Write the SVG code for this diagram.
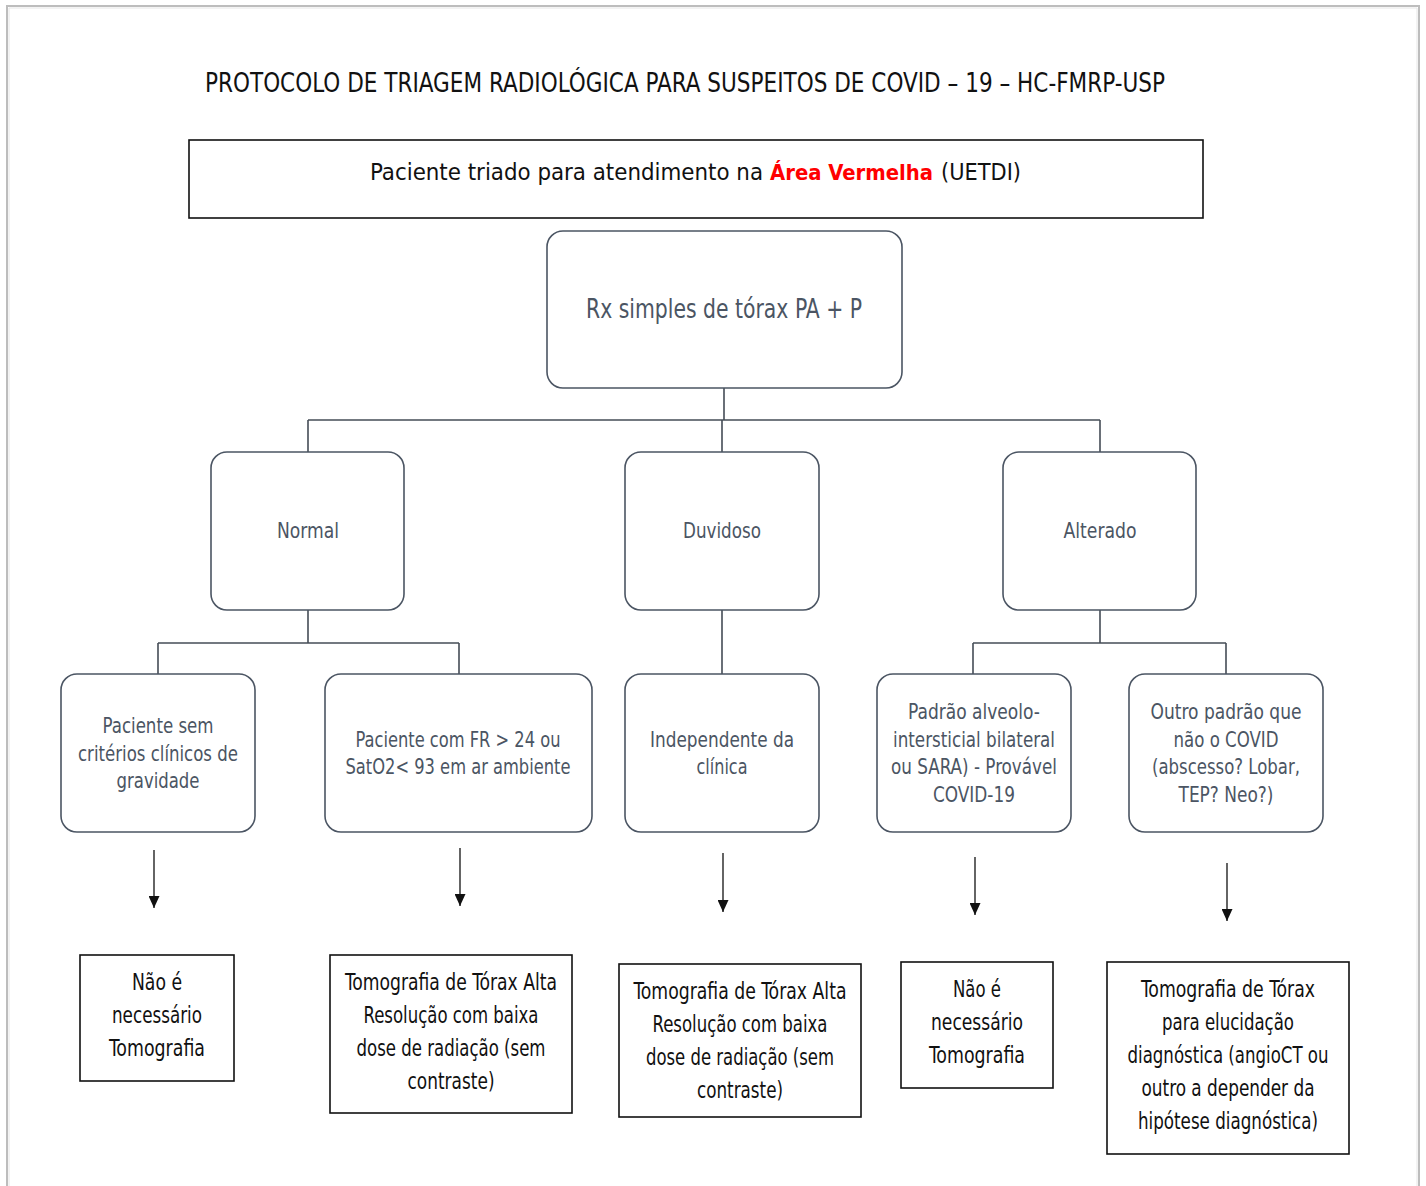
<svg xmlns="http://www.w3.org/2000/svg" width="1426" height="1186" viewBox="0 0 1426 1186">
<style>
text{font-family:"Liberation Sans Narrow","DejaVu Sans Condensed","Liberation Sans",sans-serif;text-anchor:middle}
.t{font-size:26px;fill:#111}
.node rect.r{fill:#fff;stroke:#4b5563;stroke-width:1.6}
.node text{font-size:22px;fill:#4b5563}
.res rect{fill:#fff;stroke:#111;stroke-width:1.6}
.res text{font-size:23px;fill:#111}
.res text.s{text-anchor:start;font-size:23px}
.res text.red{fill:#ff0000;font-weight:bold;font-size:22px}
.c line{stroke:#444c56;stroke-width:1.6}
.a line{stroke:#111;stroke-width:1.3}
</style>
<defs>
<marker id="ah" markerWidth="12" markerHeight="11" refX="12" refY="5.5" orient="auto" markerUnits="userSpaceOnUse" viewBox="0 0 12 11"><path d="M0,0 L12,5.5 L0,11 Z" fill="#111"/></marker>
</defs>
<rect x="0" y="0" width="1426" height="1186" fill="#fff"/>
<path d="M7,1186 V6 H1419 V1186" fill="none" stroke="#bdbdbd" stroke-width="2"/>
<path d="M9,1186 V8 H1417 V1186" fill="none" stroke="#e6e6e6" stroke-width="1"/>
<text class="t" x="685" y="92" textLength="960" lengthAdjust="spacingAndGlyphs">PROTOCOLO DE TRIAGEM RADIOLÓGICA PARA SUSPEITOS DE COVID – 19 – HC-FMRP-USP</text>
<g id="top" class="res">
<rect x="189" y="140" width="1014" height="78"/>
<text class="s" x="370" y="180" textLength="393" lengthAdjust="spacingAndGlyphs" transform="translate(0,0)">Paciente triado para atendimento na</text>
<text class="s red" x="770" y="180" textLength="163" lengthAdjust="spacingAndGlyphs">Área Vermelha</text>
<text class="s" x="941" y="180" textLength="80" lengthAdjust="spacingAndGlyphs">(UETDI)</text>
</g>
<g class="c" id="connectors">
<line x1="724" y1="388" x2="724" y2="420"/>
<line x1="308" y1="420" x2="1100" y2="420"/>
<line x1="308" y1="420" x2="308" y2="452"/>
<line x1="722" y1="420" x2="722" y2="452"/>
<line x1="1100" y1="420" x2="1100" y2="452"/>
<line x1="308" y1="610" x2="308" y2="643"/>
<line x1="158" y1="643" x2="459" y2="643"/>
<line x1="158" y1="643" x2="158" y2="674"/>
<line x1="459" y1="643" x2="459" y2="674"/>
<line x1="722" y1="610" x2="722" y2="674"/>
<line x1="1100" y1="610" x2="1100" y2="643"/>
<line x1="973" y1="643" x2="1226" y2="643"/>
<line x1="973" y1="643" x2="973" y2="674"/>
<line x1="1226" y1="643" x2="1226" y2="674"/>
</g>
<g class="a" id="arrows">
<line x1="154" y1="850" x2="154" y2="908" marker-end="url(#ah)"/>
<line x1="460" y1="848" x2="460" y2="906" marker-end="url(#ah)"/>
<line x1="723" y1="853" x2="723" y2="912" marker-end="url(#ah)"/>
<line x1="975" y1="857" x2="975" y2="915" marker-end="url(#ah)"/>
<line x1="1227" y1="863" x2="1227" y2="921" marker-end="url(#ah)"/>
</g>
<g id="rx" class="node"><rect class="r" x="547" y="231" width="355" height="157" rx="16"/><text x="724" y="318" style="font-size:26px" textLength="276" lengthAdjust="spacingAndGlyphs">Rx simples de tórax PA + P</text></g>
<g id="normal" class="node"><rect class="r" x="211" y="452" width="193" height="158" rx="16"/><text x="308" y="538" textLength="62" lengthAdjust="spacingAndGlyphs">Normal</text></g>
<g id="duvidoso" class="node"><rect class="r" x="625" y="452" width="194" height="158" rx="16"/><text x="722" y="538" textLength="78" lengthAdjust="spacingAndGlyphs">Duvidoso</text></g>
<g id="alterado" class="node"><rect class="r" x="1003" y="452" width="193" height="158" rx="16"/><text x="1100" y="538" textLength="73" lengthAdjust="spacingAndGlyphs">Alterado</text></g>
<g id="n1" class="node"><rect class="r" x="61" y="674" width="194" height="158" rx="16"/>
<text x="158" y="733" textLength="111" lengthAdjust="spacingAndGlyphs">Paciente sem</text>
<text x="158" y="761" textLength="160" lengthAdjust="spacingAndGlyphs">critérios clínicos de</text>
<text x="158" y="788" textLength="83" lengthAdjust="spacingAndGlyphs">gravidade</text></g>
<g id="n2" class="node"><rect class="r" x="325" y="674" width="267" height="158" rx="16"/>
<text x="458" y="747" textLength="205" lengthAdjust="spacingAndGlyphs">Paciente com FR &gt; 24 ou</text>
<text x="458" y="774" textLength="225" lengthAdjust="spacingAndGlyphs">SatO2&lt; 93 em ar ambiente</text></g>
<g id="n3" class="node"><rect class="r" x="625" y="674" width="194" height="158" rx="16"/>
<text x="722" y="747" textLength="144" lengthAdjust="spacingAndGlyphs">Independente da</text>
<text x="722" y="774" textLength="51" lengthAdjust="spacingAndGlyphs">clínica</text></g>
<g id="n4" class="node"><rect class="r" x="877" y="674" width="194" height="158" rx="16"/>
<text x="974" y="719" textLength="132" lengthAdjust="spacingAndGlyphs">Padrão alveolo-</text>
<text x="974" y="747" textLength="162" lengthAdjust="spacingAndGlyphs">intersticial bilateral</text>
<text x="974" y="774" textLength="166" lengthAdjust="spacingAndGlyphs">ou SARA) - Provável</text>
<text x="974" y="802" textLength="82" lengthAdjust="spacingAndGlyphs">COVID-19</text></g>
<g id="n5" class="node"><rect class="r" x="1129" y="674" width="194" height="158" rx="16"/>
<text x="1226" y="719" textLength="151" lengthAdjust="spacingAndGlyphs">Outro padrão que</text>
<text x="1226" y="747" textLength="105" lengthAdjust="spacingAndGlyphs">não o COVID</text>
<text x="1226" y="774" textLength="148" lengthAdjust="spacingAndGlyphs">(abscesso? Lobar,</text>
<text x="1226" y="802" textLength="95" lengthAdjust="spacingAndGlyphs">TEP? Neo?)</text></g>
<g id="r1" class="res"><rect x="80" y="955" width="154" height="126"/>
<text x="157" y="990" textLength="50" lengthAdjust="spacingAndGlyphs">Não é</text>
<text x="157" y="1023" textLength="90" lengthAdjust="spacingAndGlyphs">necessário</text>
<text x="157" y="1056" textLength="96" lengthAdjust="spacingAndGlyphs">Tomografia</text></g>
<g id="r2" class="res"><rect x="330" y="955" width="242" height="158"/>
<text x="451" y="990" textLength="212" lengthAdjust="spacingAndGlyphs">Tomografia de Tórax Alta</text>
<text x="451" y="1023" textLength="175" lengthAdjust="spacingAndGlyphs">Resolução com baixa</text>
<text x="451" y="1056" textLength="189" lengthAdjust="spacingAndGlyphs">dose de radiação (sem</text>
<text x="451" y="1089" textLength="87" lengthAdjust="spacingAndGlyphs">contraste)</text></g>
<g id="r3" class="res"><rect x="619" y="964" width="242" height="153"/>
<text x="740" y="999" textLength="213" lengthAdjust="spacingAndGlyphs">Tomografia de Tórax Alta</text>
<text x="740" y="1032" textLength="175" lengthAdjust="spacingAndGlyphs">Resolução com baixa</text>
<text x="740" y="1065" textLength="188" lengthAdjust="spacingAndGlyphs">dose de radiação (sem</text>
<text x="740" y="1098" textLength="86" lengthAdjust="spacingAndGlyphs">contraste)</text></g>
<g id="r4" class="res"><rect x="901" y="962" width="152" height="126"/>
<text x="977" y="997" textLength="48" lengthAdjust="spacingAndGlyphs">Não é</text>
<text x="977" y="1030" textLength="92" lengthAdjust="spacingAndGlyphs">necessário</text>
<text x="977" y="1063" textLength="96" lengthAdjust="spacingAndGlyphs">Tomografia</text></g>
<g id="r5" class="res"><rect x="1107" y="962" width="242" height="192"/>
<text x="1228" y="997" textLength="174" lengthAdjust="spacingAndGlyphs">Tomografia de Tórax</text>
<text x="1228" y="1030" textLength="132" lengthAdjust="spacingAndGlyphs">para elucidação</text>
<text x="1228" y="1063" textLength="201" lengthAdjust="spacingAndGlyphs">diagnóstica (angioCT ou</text>
<text x="1228" y="1096" textLength="173" lengthAdjust="spacingAndGlyphs">outro a depender da</text>
<text x="1228" y="1129" textLength="180" lengthAdjust="spacingAndGlyphs">hipótese diagnóstica)</text></g>
</svg>
